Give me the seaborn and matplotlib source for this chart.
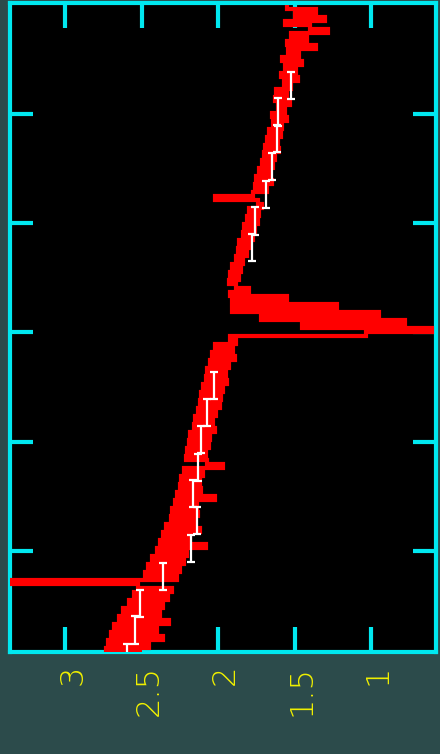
import numpy as np
import matplotlib
matplotlib.use("Agg")
import matplotlib.pyplot as plt
import matplotlib.transforms as mtransforms
import seaborn as sns

# ---- data (rotated spectrum: x = flux-like value, y = position along spectrum) ----
flux = [
    1.55, 1.36, 1.50, 1.30, 1.56, 1.40, 1.28, 1.52, 1.42, 1.55,
    1.36, 1.54, 1.47, 1.58, 1.45, 1.56, 1.49, 1.59, 1.48, 1.57,
    1.52, 1.62, 1.55, 1.63, 1.53, 1.61, 1.56, 1.65, 1.55, 1.64,
    1.58, 1.67, 1.59, 1.68, 1.61, 1.69, 1.60, 1.70, 1.63, 1.71,
    1.64, 1.73, 1.66, 1.75, 1.65, 1.76, 1.68, 1.77, 2.02, 1.74,
    1.71, 1.80, 1.73, 1.81, 1.74, 1.83, 1.76, 1.84, 1.77, 1.86,
    1.79, 1.87, 1.81, 1.88, 1.84, 1.91, 1.85, 1.92, 1.86, 1.93,
    1.88, 1.80, 1.92, 1.55, 1.91, 1.22, 1.91, 0.95, 1.72, 0.78,
    1.45, 0.60, 1.03, 1.92, 1.88, 2.02, 1.90, 2.04, 1.89, 2.05,
    1.93, 2.07, 1.95, 2.08, 1.94, 2.10, 1.97, 2.11, 1.98, 2.12,
    1.99, 2.13, 2.01, 2.15, 2.03, 2.16, 2.02, 2.18, 2.05, 2.19,
    2.06, 2.20, 2.08, 2.21, 2.07, 1.97, 2.22, 2.10, 2.24, 2.12,
    2.25, 2.11, 2.27, 2.02, 2.28, 2.14, 2.30, 2.13, 2.31, 2.16,
    2.34, 2.12, 2.36, 2.18, 2.38, 2.08, 2.40, 2.20, 2.43, 2.22,
    2.46, 2.25, 2.48, 2.27, 3.36, 2.52, 2.30, 2.55, 2.33, 2.58,
    2.36, 2.62, 2.38, 2.65, 2.32, 2.68, 2.40, 2.70, 2.36, 2.72,
    2.45, 2.73, 2.50,
]
pos_top, pos_bottom = 4.995, -0.922
position = np.linspace(pos_top, pos_bottom, len(flux))

bin_flux = [1.523, 1.608, 1.614, 1.647, 1.686, 1.758, 1.778,
            2.026, 2.072, 2.111, 2.131, 2.163, 2.137, 2.176, 2.359, 2.510, 2.542, 2.595]
bin_pos = [4.256, 4.014, 3.772, 3.516, 3.260, 3.018, 2.776,
           1.511, 1.269, 1.023, 0.767, 0.525, 0.283, 0.027, -0.228, -0.475, -0.721, -0.977]
bin_halfwidth = 0.124

xticks = [3, 2.5, 2, 1.5, 1]
xticklabels = ["3", "2.5", "2", "1.5", "1"]
yticks = [0, 1, 2, 3, 4]

# ---- style ----
sns.set_style("dark")
plt.rcParams['font.family'] = ['DejaVu Sans']
BG = "#2c4b4b"
CYAN = "#00e8f0"
YELLOW = "#f0f000"

fig = plt.figure(figsize=(4.4, 7.54), dpi=100, facecolor=BG)
ax = fig.add_axes([10/440, 1 - 652/754, 426/440, 649/754])
ax.set_facecolor("black")

sns.lineplot(x=flux, y=position, sort=False, estimator=None,
             color="red", linewidth=3.0, drawstyle="steps-pre",
             solid_capstyle="butt", solid_joinstyle="miter",
             ax=ax, zorder=3)
ax.errorbar(bin_flux, bin_pos, yerr=bin_halfwidth, fmt="none", ecolor="white",
            elinewidth=1.6, capsize=2.6, capthick=1.6, zorder=4)

ax.set_xlim(3.36, 0.575)
ax.set_ylim(pos_bottom, 5.01)
ax.grid(False)

ax.set_xticks(xticks)
ax.set_xticklabels(xticklabels)
ax.set_yticks(yticks)
ax.set_yticklabels([])
ax.tick_params(axis="x", which="major", direction="in", length=18, width=3,
               color=CYAN, top=True, bottom=True, labelcolor=YELLOW,
               labelsize=23, pad=9, labelrotation=90)
ax.tick_params(axis="y", which="major", direction="in", length=16.5, width=3,
               color=CYAN, left=True, right=True, labelleft=False)
for lab in ax.get_xticklabels():
    lab.set_fontweight("light")
    lab.set_transform(lab.get_transform() +
                      mtransforms.ScaledTranslation(7/100, 0, fig.dpi_scale_trans))
for sp in ax.spines.values():
    sp.set_color(CYAN)
    sp.set_linewidth(3)
    sp.set_visible(True)

ax.set_xlabel("")
ax.set_ylabel("")
fig.savefig("out.png", dpi=100, facecolor=BG)
